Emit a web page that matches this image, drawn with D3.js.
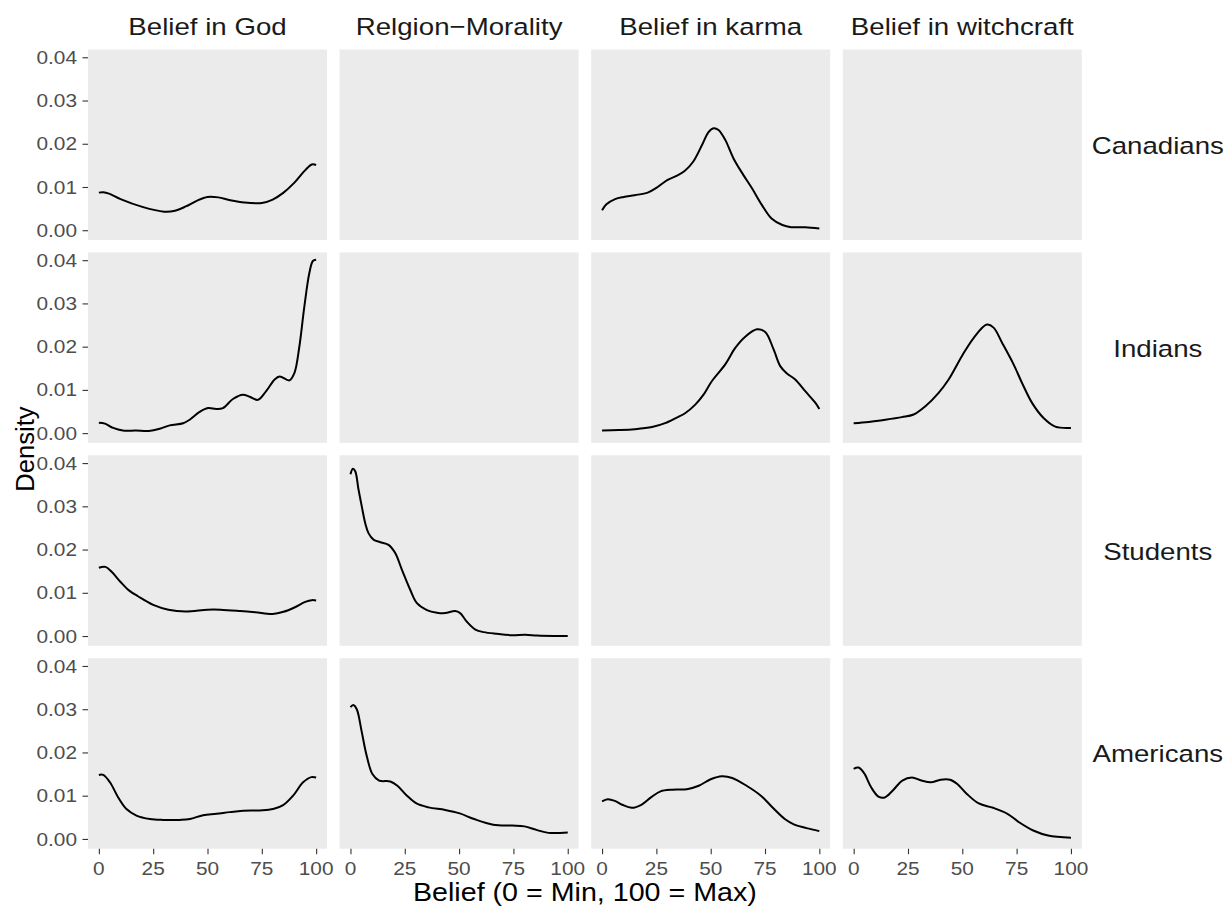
<!DOCTYPE html>
<html><head><meta charset="utf-8">
<script src="https://cdn.jsdelivr.net/npm/d3@7"></script>
<style>
body{margin:0;background:#fff;}
svg{display:block;font-family:"Liberation Sans",Arial,Helvetica,sans-serif;}
</style>
</head><body>
<svg id="chart" width="1228" height="911"></svg>
<script>
// ---------- data ----------
const facetCols = ["Belief in God", "Relgion\u2212Morality", "Belief in karma", "Belief in witchcraft"];
const facetRows = ["Canadians", "Indians", "Students", "Americans"];
const xTicks = [0, 25, 50, 75, 100];
const xTickLabels = ["0", "25", "50", "75", "100"];
const yTicks = [0, 0.01, 0.02, 0.03, 0.04];
const yTickLabels = ["0.00", "0.01", "0.02", "0.03", "0.04"];
const xTitle = "Belief (0 = Min, 100 = Max)";
const yTitle = "Density";

// density curves: [belief, density]
const canadiansGod = [[0,.0087],[2,.0088],[5,.0084],[10,.0072],[20,.0054],[30,.0043],[35,.0045],[40,.0055],[45,.0068],[50,.0077],[55,.0076],[60,.0070],[67,.0064],[75,.0063],[80,.0071],[85,.0087],[90,.0110],[95,.0139],[98,.0152],[100,.0151]];
const canadiansKarma = [[0,.0046],[2,.0060],[6,.0072],[10,.0077],[15,.0081],[21,.0087],[25,.0098],[30,.0116],[34,.0125],[38,.0137],[42,.0159],[46,.0197],[49,.0227],[51.3,.0236],[53.6,.0232],[56.7,.0209],[60.5,.0166],[65,.0128],[69,.0097],[73.6,.0058],[78,.0027],[83,.0012],[87,.0007],[93.5,.0007],[100,.0004]];
const indiansGod = [[0,.0024],[2.8,.0022],[6.6,.0012],[11,.0006],[17,.0006],[23,.0005],[28,.0010],[32.6,.0018],[38.8,.0023],[41.8,.0031],[46.4,.0049],[50.2,.0058],[54,.0056],[57.1,.0058],[61.7,.0079],[66.3,.0089],[69.4,.0084],[73.2,.0077],[77,.0097],[80.9,.0124],[83.2,.0131],[87.7,.0122],[90,.0139],[92.3,.0201],[94.6,.0294],[96.9,.0371],[98.5,.0398],[100,.0401]];
const indiansKarma = [[0,.0006],[7.5,.0007],[15,.0009],[23,.0014],[29,.0023],[34.4,.0036],[38.2,.0046],[42.9,.0066],[46.7,.0089],[50.5,.0120],[56.7,.0159],[61.3,.0197],[65.9,.0223],[71.3,.0240],[75.1,.0234],[79,.0193],[82,.0155],[85.1,.0138],[88.9,.0124],[93.5,.0097],[98.2,.0070],[100,.0056]];
const indiansWitchcraft = [[0,.0023],[6.9,.0026],[14.6,.0031],[22.2,.0037],[27.6,.0043],[33,.0062],[39.1,.0093],[43.7,.0124],[49.8,.0178],[55.2,.0220],[61.3,.0251],[64.4,.0244],[68.3,.0209],[73.6,.0159],[77.5,.0116],[82.1,.0070],[87.4,.0035],[92.8,.0015],[100,.0012]];
const studentsGod = [[0,.0158],[3,.0160],[6,.0148],[10,.0125],[14,.0105],[18,.0092],[25,.0072],[32,.0061],[40,.0057],[50,.0061],[56,.0061],[65,.0058],[72,.0055],[80,.0051],[85,.0056],[90,.0066],[95,.0079],[98,.0083],[100,.0082]];
const studentsMorality = [[0,.0374],[1.1,.0387],[2.2,.0381],[3.7,.0339],[5.2,.0300],[6.8,.0261],[8.3,.0238],[10.6,.0223],[13.7,.0217],[17.5,.0211],[20.6,.0192],[23.7,.0153],[27.5,.0107],[30.6,.0076],[35.2,.0060],[39.8,.0054],[43.6,.0053],[48.2,.0058],[50.5,.0053],[53.6,.0033],[57.5,.0015],[61.3,.0009],[67.4,.0005],[74.3,.0002],[80.5,.0003],[86,.0001],[93.5,.0000],[100,.0000]];
const americansGod = [[0,.0148],[2,.0148],[5.1,.0131],[8.9,.0096],[12.7,.0069],[17.3,.0054],[23.5,.0046],[29.6,.0044],[37.3,.0044],[41.9,.0046],[48,.0055],[54.1,.0058],[60.3,.0062],[66.4,.0065],[74.1,.0066],[80.2,.0069],[84.8,.0078],[89.4,.0100],[94,.0131],[97.8,.0143],[100,.0142]];
const americansMorality = [[0,.0305],[1.3,.0310],[2.9,.0300],[5.1,.0250],[7.3,.0196],[10.1,.0150],[13.2,.0135],[18.3,.0133],[21.6,.0123],[26,.0100],[30.4,.0082],[35.9,.0073],[43.6,.0067],[50.3,.0059],[56.9,.0046],[65.7,.0033],[74.5,.0031],[80.1,.0029],[85.6,.0021],[91.1,.0014],[100,.0015]];
const americansKarma = [[0,.0087],[2.6,.0092],[5.9,.0088],[9.3,.0079],[13.7,.0072],[18.1,.0079],[22.5,.0096],[26.9,.0110],[32.4,.0114],[39,.0115],[44.5,.0123],[50,.0138],[55.1,.0145],[59.9,.0141],[66.5,.0123],[73.1,.0100],[78.6,.0072],[84.1,.0046],[88.5,.0033],[94.1,.0025],[100,.0018]];
const americansWitchcraft = [[0,.0162],[2.2,.0165],[4.8,.0152],[8.1,.0119],[11.4,.0098],[14.3,.0096],[18,.0112],[22.4,.0135],[26.8,.0142],[31.2,.0135],[35.6,.0131],[40,.0137],[44.4,.0137],[47.7,.0127],[52.1,.0104],[57.6,.0082],[64.2,.0072],[70.8,.0058],[76.3,.0038],[82.9,.0019],[89.5,.0008],[100,.0003]];

// which curve goes in which facet [row][col]
const facetData = [
  [canadiansGod, null, canadiansKarma, null],
  [indiansGod, null, indiansKarma, indiansWitchcraft],
  [studentsGod, studentsMorality, null, null],
  [americansGod, americansMorality, americansKarma, americansWitchcraft]
];

// ---------- layout ----------
const left0 = 88, colPitch = 251.6, panelW = 239;
const top0 = 49.5, rowPitch = 202.9, panelH = 190.5;
const SX = 1.12; // horizontal text stretch
const tickCol = "#333333", labCol = "#4d4d4d";

const svg = d3.select("#chart");
const x = d3.scaleLinear().domain([-5, 105]).range([0, panelW]);
const y = d3.scaleLinear().domain([-0.00226, 0.0418]).range([panelH, 0]);
const line = d3.line().x(d => x(d[0])).y(d => y(d[1])).curve(d3.curveCatmullRom.alpha(0.5));

function txt(g, px, py, s, size, anchor, color, base) {
  return g.append("text")
    .attr("transform", `translate(${px},${py}) scale(${SX},1)`)
    .attr("text-anchor", anchor)
    .attr("font-size", size)
    .attr("fill", color)
    .attr("dominant-baseline", base || "alphabetic")
    .text(s);
}

facetRows.forEach((rn, r) => {
  facetCols.forEach((cn, c) => {
    const px = left0 + c * colPitch, py = top0 + r * rowPitch;
    const g = svg.append("g").attr("transform", `translate(${px},${py})`);
    g.append("rect").attr("width", panelW).attr("height", panelH).attr("fill", "#ebebeb");
    const d = facetData[r][c];
    if (d) {
      g.append("path").datum(d).attr("d", line)
        .attr("fill", "none").attr("stroke", "#000").attr("stroke-width", 2)
        .attr("stroke-linejoin", "round").attr("stroke-linecap", "butt");
    }
    if (c === 0) {
      const ax = g.append("g").call(d3.axisLeft(y).tickValues(yTicks).tickSize(5.5).tickFormat((v, i) => yTickLabels[i]));
      ax.select(".domain").remove();
      ax.selectAll(".tick line").attr("stroke", tickCol).attr("stroke-width", 1.1);
      ax.selectAll(".tick text").remove();
      yTicks.forEach((v, i) => txt(g, -11, y(v) + 6.6, yTickLabels[i], "18.6px", "end", labCol));
    }
    if (r === facetRows.length - 1) {
      const ax = g.append("g").attr("transform", `translate(0,${panelH})`)
        .call(d3.axisBottom(x).tickValues(xTicks).tickSize(5.5).tickFormat((v, i) => xTickLabels[i]));
      ax.select(".domain").remove();
      ax.selectAll(".tick line").attr("stroke", tickCol).attr("stroke-width", 1.1);
      ax.selectAll(".tick text").remove();
      xTicks.forEach((v, i) => txt(g, x(v), panelH + 26.5, xTickLabels[i], "18.6px", "middle", labCol));
    }
    if (r === 0) {
      txt(g, panelW / 2, -14.5, cn, "24.7px", "middle", "#1a1a1a");
    }
    if (c === facetCols.length - 1) {
      txt(g, panelW + 76, panelH / 2 + 9, rn, "24.7px", "middle", "#1a1a1a");
    }
  });
});

// axis titles
const plotMidX = left0 + (3 * colPitch + panelW) / 2;
txt(svg, plotMidX, 901, xTitle, "25.6px", "middle", "#000");
const plotMidY = top0 + (3 * rowPitch + panelH) / 2;
svg.append("text")
  .attr("transform", `translate(33.5,${plotMidY}) rotate(-90)`)
  .attr("text-anchor", "middle").attr("font-size", "25.6px").attr("fill", "#000")
  .text(yTitle);
</script>
</body></html>
